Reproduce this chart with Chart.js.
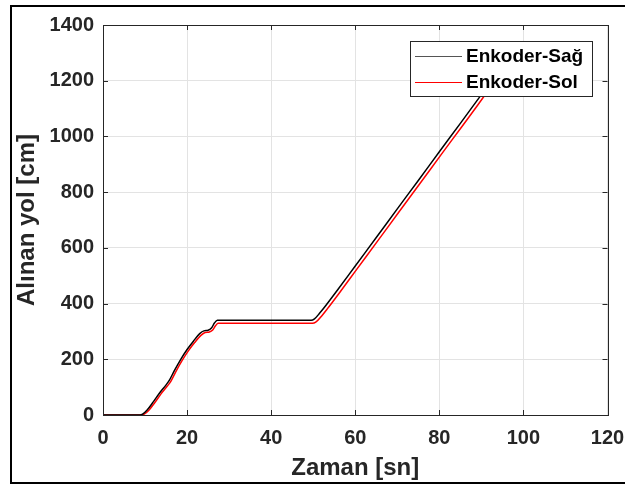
<!DOCTYPE html>
<html lang="tr">
<head>
<meta charset="utf-8">
<script src="https://cdn.jsdelivr.net/npm/chart.js@4/dist/chart.umd.min.js"></script>
<style>
  html, body { margin: 0; padding: 0; background: #fff; overflow: hidden; }
  #grafik { display: block; }
</style>
</head>
<body>
<canvas id="grafik" width="625" height="485"></canvas>
<script>
// VERİ
const zamanSag = [0, 8.8, 9.5, 10.5, 12, 13.5, 15, 15.8, 17, 18.5, 20, 21.5, 23, 24, 25, 25.8, 26.5, 27.2, 30, 40, 49.5, 50.3, 51.5, 53, 56, 60, 65, 70, 75, 80, 85, 90, 92];
const yolSag   = [0, 0, 4, 18, 48, 80, 108, 125, 160, 200, 235, 265, 292, 302, 304, 312, 330, 340, 340, 340, 340, 345, 365, 393, 453, 535, 637, 740, 842, 945, 1047, 1150, 1190];

const zamanSol = [0, 9.1, 9.8, 10.8, 12.3, 13.8, 15.3, 16.1, 17.3, 18.8, 20.3, 21.8, 23.3, 24.3, 25.3, 26.1, 26.8, 27.4, 30, 40, 49.8, 50.6, 51.8, 53.3, 56.3, 60.3, 65.3, 70.3, 75.3, 80.3, 85.3, 90.3, 92];
const yolSol   = [0, 0, 3, 15, 44, 76, 104, 120, 155, 195, 230, 260, 286, 296, 298, 305, 321, 329, 329, 329, 329, 333, 352, 380, 440, 522, 624, 727, 829, 932, 1034, 1137, 1175];

const xTikler = [0, 20, 40, 60, 80, 100, 120];
const yTikler = [0, 200, 400, 600, 800, 1000, 1200, 1400];

const YAZI = "#262626";
const FONT = "'Liberation Sans', Arial, sans-serif";

function noktalar(xs, ys) {
    return xs.map((x, i) => ({ x: x, y: ys[i] }));
}

// ÇERÇEVE, İÇ TİKLER VE LEJANT
const cizimler = {
    id: "cizimler",
    beforeDraw(chart) {
        const c = chart.ctx;
        c.save();
        c.fillStyle = "#fff";
        c.fillRect(0, 0, chart.width, chart.height);
        c.strokeStyle = "#000";
        c.lineWidth = 2;
        c.strokeRect(11, 6, 630, 477);
        c.restore();
    },
    afterDatasetsDraw(chart) {
        const c = chart.ctx;
        const a = chart.chartArea;
        const sx = chart.scales.x, sy = chart.scales.y;
        c.save();
        c.strokeStyle = YAZI;
        c.lineWidth = 1;
        c.beginPath();
        xTikler.forEach(v => {
            const px = Math.round(sx.getPixelForValue(v)) + 0.5;
            c.moveTo(px, a.bottom); c.lineTo(px, a.bottom - 5);
            c.moveTo(px, a.top); c.lineTo(px, a.top + 5);
        });
        yTikler.forEach(v => {
            const py = Math.round(sy.getPixelForValue(v)) + 0.5;
            c.moveTo(a.left, py); c.lineTo(a.left + 5, py);
            c.moveTo(a.right, py); c.lineTo(a.right - 5, py);
        });
        c.stroke();
        c.strokeRect(Math.round(a.left) + 0.5, Math.round(a.top) + 0.5,
                     Math.round(a.right - a.left), Math.round(a.bottom - a.top));

        // lejant kutusu
        const lx = 410.5, ly = 41.5, lw = 182, lh = 55;
        c.fillStyle = "#fff";
        c.fillRect(lx, ly, lw, lh);
        c.strokeRect(lx, ly, lw, lh);
        c.font = "bold 19px " + FONT;
        c.textBaseline = "middle";
        c.fillStyle = "#000";
        const satirlar = [
            { ds: chart.data.datasets[0], y: 56 },
            { ds: chart.data.datasets[1], y: 82 }
        ];
        satirlar.forEach(s => {
            c.strokeStyle = s.ds.legendRenk;
            c.lineWidth = 1;
            c.beginPath();
            c.moveTo(415, s.y + 0.5);
            c.lineTo(462, s.y + 0.5);
            c.stroke();
            c.fillText(s.ds.label, 466, s.y + 1);
        });
        c.restore();
    }
};

new Chart(document.getElementById("grafik"), {
    type: "line",
    data: {
        datasets: [
            {
                label: "Enkoder-Sağ",
                data: noktalar(zamanSag, yolSag),
                borderColor: "#000",
                legendRenk: "#555",
                borderWidth: 1.5,
                pointRadius: 0,
                cubicInterpolationMode: "monotone"
            },
            {
                label: "Enkoder-Sol",
                data: noktalar(zamanSol, yolSol),
                borderColor: "#ff0000",
                legendRenk: "#ff0000",
                borderWidth: 1.5,
                pointRadius: 0,
                cubicInterpolationMode: "monotone"
            }
        ]
    },
    options: {
        responsive: false,
        animation: false,
        events: [],
        layout: { padding: { left: 0, top: 25, right: 17.5, bottom: 0 } },
        plugins: {
            legend: { display: false },
            tooltip: { enabled: false }
        },
        scales: {
            x: {
                type: "linear",
                min: 0,
                max: 120,
                afterBuildTicks: s => { s.ticks = xTikler.map(v => ({ value: v })); },
                afterFit: s => { s.height = 70; s.paddingLeft = 0; s.paddingRight = 0; },
                border: { display: false },
                grid: { color: "#e3e3e3", drawTicks: false },
                ticks: {
                    padding: 11,
                    color: YAZI,
                    callback: v => String(v),
                    font: { family: FONT, size: 20, weight: "bold" }
                },
                title: {
                    display: true,
                    text: "Zaman [sn]",
                    color: YAZI,
                    padding: { top: 0, bottom: 2 },
                    font: { family: FONT, size: 24, weight: "bold" }
                }
            },
            y: {
                min: 0,
                max: 1400,
                afterBuildTicks: s => { s.ticks = yTikler.map(v => ({ value: v })); },
                afterFit: s => { s.width = 103; s.paddingTop = 0; s.paddingBottom = 0; },
                border: { display: false },
                grid: { color: "#e3e3e3", drawTicks: false },
                ticks: {
                    padding: 9,
                    color: YAZI,
                    callback: v => String(v),
                    font: { family: FONT, size: 20, weight: "bold" }
                },
                title: {
                    display: true,
                    text: "Alınan yol [cm]",
                    color: YAZI,
                    padding: { top: 13, bottom: 0 },
                    font: { family: FONT, size: 24, weight: "bold" }
                }
            }
        }
    },
    plugins: [cizimler]
});
</script>
</body>
</html>
